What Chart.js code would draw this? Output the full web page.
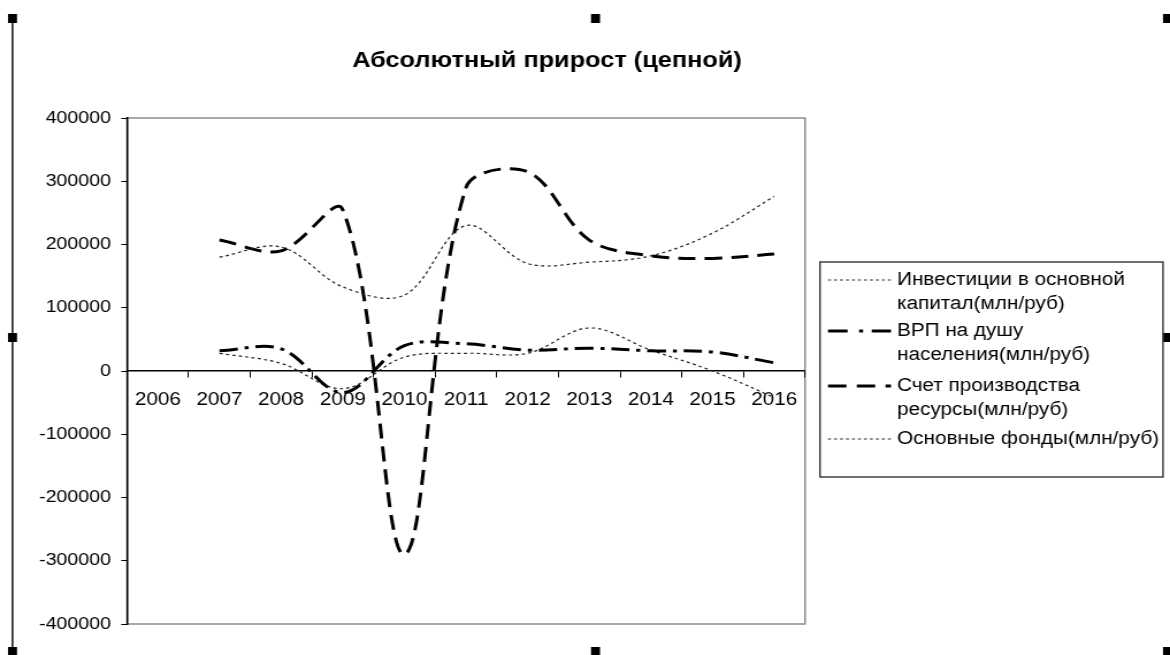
<!DOCTYPE html>
<html>
<head>
<meta charset="utf-8">
<script src="https://cdn.jsdelivr.net/npm/chart.js@4.4.1/dist/chart.umd.min.js"></script>
<style>
html,body{margin:0;padding:0;background:#fff;overflow:hidden;}
canvas{display:block;}
</style>
</head>
<body>
<canvas id="c" width="1017" height="655" style="width:1170px;height:655px;"></canvas>
<script>
const years = ['2006','2007','2008','2009','2010','2011','2012','2013','2014','2015','2016'];
const invest = [null,180000,196000,133000,120000,230000,170000,172000,182000,218000,276000];
const grpPerCapita = [null,32000,35000,-34000,40000,43000,33000,36000,32000,30000,13000];
const production = [null,207000,190000,255000,-290000,290000,315000,207000,182000,178000,185000];
const fixedAssets = [null,28000,12000,-28000,22000,28000,28000,68000,33000,0,-42000];
const seriesNames = [
  ['Инвестиции в основной','капитал(млн/руб)'],
  ['ВРП на душу','населения(млн/руб)'],
  ['Счет производства','ресурсы(млн/руб)'],
  ['Основные фонды(млн/руб)']
];
const yTicks = [400000,300000,200000,100000,0,-100000,-200000,-300000,-400000];
const titleText = 'Абсолютный прирост (цепной)';

const FONT = '"Liberation Sans", Arial, sans-serif';
// the picture is drawn on a canvas 1017 units wide, shown 1170 px wide
const SX = 1017 / 1170;
const X = v => v * SX;

const decor = {
  id: 'decor',
  beforeDraw(chart) {
    const ctx = chart.ctx, a = chart.chartArea;
    ctx.save();
    ctx.fillStyle = '#fff';
    ctx.fillRect(0, 0, chart.width, chart.height);
    ctx.strokeStyle = '#8c8c8c';
    ctx.lineWidth = 1.5;
    ctx.strokeRect(a.left, a.top, a.right - a.left, a.bottom - a.top);
    ctx.restore();
  },
  afterDraw(chart) {
    const ctx = chart.ctx;
    ctx.save();
    // title
    ctx.fillStyle = '#000';
    ctx.font = 'bold 22px ' + FONT;
    ctx.textAlign = 'center';
    ctx.textBaseline = 'middle';
    ctx.fillText(titleText, X(547), 61);
    // frame line and handles
    ctx.strokeStyle = '#000';
    ctx.lineWidth = 1.4;
    ctx.beginPath(); ctx.moveTo(X(12.5), 18); ctx.lineTo(X(12.5), 655); ctx.stroke();
    const hs = [[8,14],[591,14],[1163,14],[8,333],[1163,333],[8,647],[591,647],[1163,647]];
    hs.forEach(h => ctx.fillRect(X(h[0]), h[1], X(9), 9));
    // legend
    const lx = X(820), ly = 262, lw = X(343), lh = 215;
    ctx.strokeStyle = '#333';
    ctx.lineWidth = 1.4;
    ctx.strokeRect(lx, ly, lw, lh);
    const rows = [280, 331, 386, 439];
    const legDash = [[2.6,2.6],[17,10,3.5,7.5],[16,9],[2.6,2.6]];
    ctx.font = '18px ' + FONT;
    ctx.textAlign = 'left';
    chart.data.datasets.forEach((ds, i) => {
      const y = rows[i];
      ctx.beginPath();
      ctx.setLineDash(legDash[i]);
      ctx.lineWidth = ds.borderWidth;
      ctx.strokeStyle = ds.borderColor;
      ctx.moveTo(X(828), y); ctx.lineTo(X(891), y);
      ctx.stroke();
      ctx.setLineDash([]);
      ctx.fillStyle = '#000';
      seriesNames[i].forEach((t, k) => ctx.fillText(t, X(897), y + k * 24));
    });
    ctx.restore();
  }
};

const mkSet = (label, data, dash, width, color) => ({
  label, data, borderDash: dash, borderWidth: width, borderColor: color,
  pointRadius: 0, pointHoverRadius: 0, fill: false, tension: 0.35, spanGaps: false
});

new Chart(document.getElementById('c'), {
  type: 'line',
  data: {
    labels: years,
    datasets: [
      mkSet(seriesNames[0].join(' '), invest, [2.8,2.8], 1.2, '#222'),
      mkSet(seriesNames[1].join(' '), grpPerCapita, [16,6,3.5,6], 3, '#000'),
      mkSet(seriesNames[2].join(' '), production, [15,8], 3, '#000'),
      mkSet(seriesNames[3].join(' '), fixedAssets, [2.8,2.8], 1.2, '#222')
    ]
  },
  options: {
    responsive: false,
    animation: false,
    events: [],
    layout: { padding: { top: 118, bottom: 31, left: 0, right: 1017 - X(805) } },
    plugins: { legend: { display: false }, title: { display: false }, tooltip: { enabled: false } },
    scales: {
      x: {
        position: { y: 0 },
        offset: true,
        grid: { offset: true, drawOnChartArea: false, drawTicks: true, tickLength: 6, color: '#000', lineWidth: 1 },
        border: { display: true, color: '#000', width: 1.5 },
        ticks: { color: '#000', font: { family: FONT, size: 18 }, padding: 12, maxRotation: 0, autoSkip: false }
      },
      y: {
        min: -400000, max: 400000,
        afterFit(s) { s.width = X(127); },
        afterBuildTicks(s) { s.ticks = yTicks.map(v => ({ value: v })); },
        grid: { drawOnChartArea: false, drawTicks: true, tickLength: 5, color: '#000', lineWidth: 1 },
        border: { display: true, color: '#000', width: 1.5 },
        ticks: { color: '#000', font: { family: FONT, size: 17 }, padding: 9, callback: v => String(v) }
      }
    }
  },
  plugins: [decor]
});
</script>
</body>
</html>
